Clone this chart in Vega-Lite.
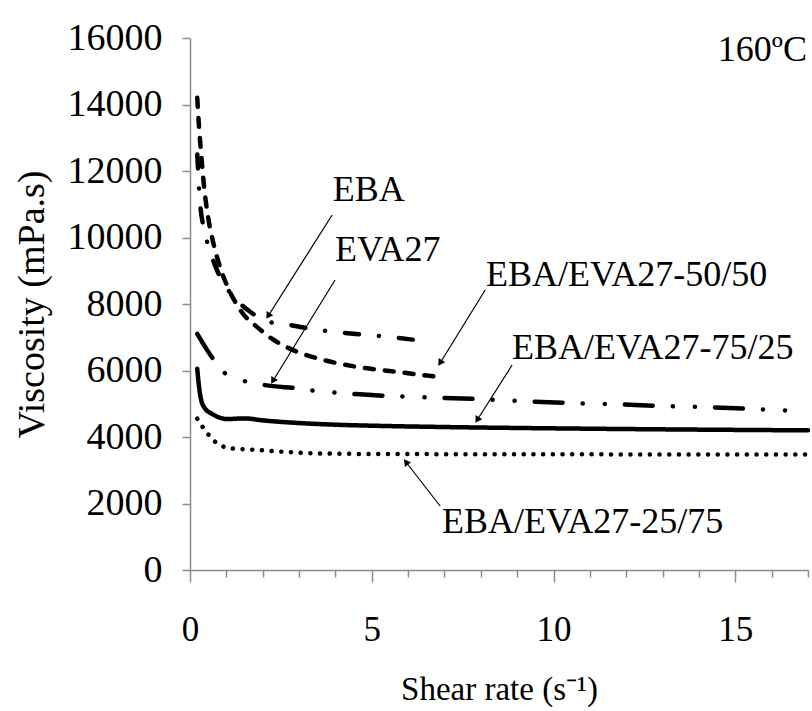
{
  "$schema": "https://vega.github.io/schema/vega-lite/v6.json",
  "width": 618,
  "height": 532,
  "autosize": {"type": "none"},
  "padding": {"left": 190, "top": 38, "right": 4, "bottom": 141},
  "background": "white",
  "config": {
    "view": {"stroke": null},
    "font": "Liberation Serif",
    "axis": {"grid": false, "domainColor": "#8c8c8c", "tickColor": "#8c8c8c", "domainWidth": 1.5, "tickWidth": 1.5, "labelColor": "black", "titleColor": "black", "labelFont": "Liberation Serif", "titleFont": "Liberation Serif", "titleFontWeight": "normal"}
  },
  "datasets": {
    "curves": [
      {"s": "EBA", "x": 0.2, "y": 12500}, {"s": "EBA", "x": 0.27, "y": 11130}, {"s": "EBA", "x": 0.4, "y": 10200}, {"s": "EBA", "x": 0.55, "y": 9600}, {"s": "EBA", "x": 0.75, "y": 9000}, {"s": "EBA", "x": 1.0, "y": 8500}, {"s": "EBA", "x": 1.3, "y": 8100}, {"s": "EBA", "x": 1.7, "y": 7730}, {"s": "EBA", "x": 2.1, "y": 7480}, {"s": "EBA", "x": 2.6, "y": 7400}, {"s": "EBA", "x": 3.3, "y": 7260}, {"s": "EBA", "x": 4.0, "y": 7160}, {"s": "EBA", "x": 4.75, "y": 7080}, {"s": "EBA", "x": 5.5, "y": 7010}, {"s": "EBA", "x": 6.4, "y": 6890},
      {"s": "EBA/EVA27-50/50", "x": 0.2, "y": 14200}, {"s": "EBA/EVA27-50/50", "x": 0.25, "y": 13300}, {"s": "EBA/EVA27-50/50", "x": 0.3, "y": 12600}, {"s": "EBA/EVA27-50/50", "x": 0.4, "y": 11400}, {"s": "EBA/EVA27-50/50", "x": 0.5, "y": 10600}, {"s": "EBA/EVA27-50/50", "x": 0.65, "y": 9800}, {"s": "EBA/EVA27-50/50", "x": 0.83, "y": 9100}, {"s": "EBA/EVA27-50/50", "x": 1.0, "y": 8600}, {"s": "EBA/EVA27-50/50", "x": 1.25, "y": 8050}, {"s": "EBA/EVA27-50/50", "x": 1.5, "y": 7650}, {"s": "EBA/EVA27-50/50", "x": 1.8, "y": 7350}, {"s": "EBA/EVA27-50/50", "x": 2.26, "y": 6950}, {"s": "EBA/EVA27-50/50", "x": 2.7, "y": 6680}, {"s": "EBA/EVA27-50/50", "x": 3.66, "y": 6320}, {"s": "EBA/EVA27-50/50", "x": 4.59, "y": 6110}, {"s": "EBA/EVA27-50/50", "x": 5.69, "y": 5960}, {"s": "EBA/EVA27-50/50", "x": 6.8, "y": 5810},
      {"s": "EVA27", "x": 0.2, "y": 7100}, {"s": "EVA27", "x": 0.45, "y": 6650}, {"s": "EVA27", "x": 0.7, "y": 6250}, {"s": "EVA27", "x": 1.05, "y": 5840}, {"s": "EVA27", "x": 1.57, "y": 5660}, {"s": "EVA27", "x": 2.06, "y": 5560}, {"s": "EVA27", "x": 3.08, "y": 5450}, {"s": "EVA27", "x": 3.5, "y": 5380}, {"s": "EVA27", "x": 4.04, "y": 5330}, {"s": "EVA27", "x": 4.54, "y": 5290}, {"s": "EVA27", "x": 5.56, "y": 5230}, {"s": "EVA27", "x": 6.55, "y": 5190}, {"s": "EVA27", "x": 7.5, "y": 5160}, {"s": "EVA27", "x": 8.5, "y": 5110}, {"s": "EVA27", "x": 9.5, "y": 5060}, {"s": "EVA27", "x": 10.5, "y": 5020}, {"s": "EVA27", "x": 11.55, "y": 4990}, {"s": "EVA27", "x": 13.0, "y": 4930}, {"s": "EVA27", "x": 14.1, "y": 4900}, {"s": "EVA27", "x": 15.5, "y": 4840}, {"s": "EVA27", "x": 16.7, "y": 4780},
      {"s": "EBA/EVA27-75/25", "x": 0.2, "y": 6050}, {"s": "EBA/EVA27-75/25", "x": 0.25, "y": 5500}, {"s": "EBA/EVA27-75/25", "x": 0.3, "y": 5150}, {"s": "EBA/EVA27-75/25", "x": 0.4, "y": 4880}, {"s": "EBA/EVA27-75/25", "x": 0.6, "y": 4700}, {"s": "EBA/EVA27-75/25", "x": 0.8, "y": 4590}, {"s": "EBA/EVA27-75/25", "x": 1.0, "y": 4540}, {"s": "EBA/EVA27-75/25", "x": 1.5, "y": 4560}, {"s": "EBA/EVA27-75/25", "x": 2.0, "y": 4500}, {"s": "EBA/EVA27-75/25", "x": 3.0, "y": 4420}, {"s": "EBA/EVA27-75/25", "x": 4.0, "y": 4370}, {"s": "EBA/EVA27-75/25", "x": 5.0, "y": 4340}, {"s": "EBA/EVA27-75/25", "x": 7.0, "y": 4300}, {"s": "EBA/EVA27-75/25", "x": 10.0, "y": 4260}, {"s": "EBA/EVA27-75/25", "x": 13.0, "y": 4230}, {"s": "EBA/EVA27-75/25", "x": 17.0, "y": 4200},
      {"s": "EBA/EVA27-25/75", "x": 0.2, "y": 4550}, {"s": "EBA/EVA27-25/75", "x": 0.35, "y": 4300}, {"s": "EBA/EVA27-25/75", "x": 0.5, "y": 4080}, {"s": "EBA/EVA27-25/75", "x": 0.7, "y": 3850}, {"s": "EBA/EVA27-25/75", "x": 0.95, "y": 3700}, {"s": "EBA/EVA27-25/75", "x": 1.2, "y": 3650}, {"s": "EBA/EVA27-25/75", "x": 1.7, "y": 3620}, {"s": "EBA/EVA27-25/75", "x": 2.5, "y": 3560}, {"s": "EBA/EVA27-25/75", "x": 3.4, "y": 3510}, {"s": "EBA/EVA27-25/75", "x": 5.0, "y": 3490}, {"s": "EBA/EVA27-25/75", "x": 10.0, "y": 3480}, {"s": "EBA/EVA27-25/75", "x": 17.0, "y": 3470}
    ],
    "arrows": [
      {"s": "EBA", "x1": 3.91, "y1": 10678, "x2": 2.15, "y2": 7640, "ang": 212},
      {"s": "EVA27", "x1": 3.99, "y1": 8723, "x2": 2.28, "y2": 5685, "ang": 211},
      {"s": "EBA/EVA27-50/50", "x1": 8.12, "y1": 8422, "x2": 6.88, "y2": 6227, "ang": 212},
      {"s": "EBA/EVA27-75/25", "x1": 8.86, "y1": 6166, "x2": 7.9, "y2": 4512, "ang": 212},
      {"s": "EBA/EVA27-25/75", "x1": 6.88, "y1": 1925, "x2": 5.94, "y2": 3248, "ang": 322}
    ],
    "labels": [
      {"t": "EBA", "x": 3.93, "y": 11430},
      {"t": "EVA27", "x": 3.99, "y": 9626},
      {"t": "EBA/EVA27-50/50", "x": 8.14, "y": 8874},
      {"t": "EBA/EVA27-75/25", "x": 8.86, "y": 6678},
      {"t": "EBA/EVA27-25/75", "x": 6.93, "y": 1444},
      {"t": "160ºC", "x": 14.52, "y": 15642}
    ]
  },
  "layer": [
    {
      "data": {"name": "curves"},
      "mark": {"type": "line", "interpolate": "monotone", "strokeCap": "round", "strokeWidth": 4.5, "color": "black"},
      "encoding": {
        "x": {"field": "x", "type": "quantitative", "scale": {"domain": [0, 17], "nice": false},
          "axis": {"values": [0,1,2,3,4,5,6,7,8,9,10,11,12,13,14,15,16,17], "tickCount": 40, "format": "d", "labelExpr": "datum.value % 5 === 0 ? datum.label : ''", "labelOverlap": false, "labelFlush": false, "labelBound": false, "tickSize": {"condition": {"test": "datum.value % 5 === 0", "value": 12}, "value": 7}, "labelFontSize": 35, "labelPadding": 30, "title": "Shear rate (s⁻¹)", "titleFontSize": 33, "titlePadding": 26}},
        "y": {"field": "y", "type": "quantitative", "scale": {"domain": [0, 16000], "nice": false},
          "axis": {"values": [0,2000,4000,6000,8000,10000,12000,14000,16000], "tickCount": 20, "format": "d", "labelOverlap": false, "tickSize": 8, "labelFontSize": 38, "labelPadding": 20, "title": "Viscosity (mPa.s)", "titleFontSize": 38, "titlePadding": 16}},
        "detail": {"field": "s"},
        "strokeDash": {"field": "s", "type": "nominal", "legend": null,
          "scale": {"domain": ["EBA", "EBA/EVA27-50/50", "EVA27", "EBA/EVA27-75/25", "EBA/EVA27-25/75"],
                    "range": [[14, 20, 0.1, 20], [9, 11], [28, 20, 0.1, 22, 0.1, 20], [1, 0], [0.1, 9.6]]}}
      }
    },
    {
      "data": {"name": "arrows"},
      "mark": {"type": "rule", "color": "black", "strokeWidth": 1.2},
      "encoding": {
        "x": {"field": "x1", "type": "quantitative"},
        "y": {"field": "y1", "type": "quantitative"},
        "x2": {"field": "x2"},
        "y2": {"field": "y2"}
      }
    },
    {
      "data": {"name": "arrows"},
      "mark": {"type": "point", "shape": "triangle-up", "filled": true, "color": "black", "size": 60, "opacity": 1},
      "encoding": {
        "x": {"field": "x2", "type": "quantitative"},
        "y": {"field": "y2", "type": "quantitative"},
        "angle": {"field": "ang", "type": "quantitative", "scale": null}
      }
    },
    {
      "data": {"name": "labels"},
      "mark": {"type": "text", "align": "left", "baseline": "middle", "fontSize": 36, "font": "Liberation Serif", "color": "black"},
      "encoding": {
        "x": {"field": "x", "type": "quantitative"},
        "y": {"field": "y", "type": "quantitative"},
        "text": {"field": "t"}
      }
    }
  ]
}
